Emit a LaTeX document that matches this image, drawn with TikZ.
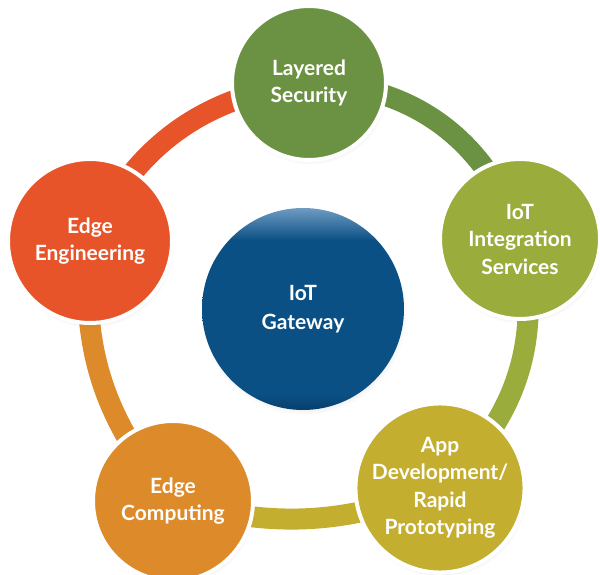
\documentclass[tikz,border=0pt]{standalone}
\usepackage{fontspec}
\setmainfont{Lato}
\usetikzlibrary{backgrounds,shadows}
\definecolor{eecol}{HTML}{E8542A}
\definecolor{lscol}{HTML}{6B9242}
\definecolor{iiscol}{HTML}{9AAC3C}
\definecolor{adcol}{HTML}{C4AE30}
\definecolor{eccol}{HTML}{DD8A2A}
\definecolor{gwblue}{HTML}{0B5084}
\definecolor{gwdeep}{HTML}{073F6C}
\definecolor{gwlight}{HTML}{6E9BC2}
\pgfdeclareverticalshading{gwshade}{100bp}{color(0bp)=(gwdeep); color(25bp)=(gwdeep); color(29bp)=(gwblue); color(67bp)=(gwblue); color(75bp)=(gwlight); color(100bp)=(gwlight)}
\tikzset{
  x=1pt, y=1pt,
  topic/.style={circle, draw=white, line width=4pt, minimum size=#1, inner sep=0pt,
    align=center, text=white, font=\fontsize{21}{27.5}\selectfont\bfseries,
    circular drop shadow={shadow xshift=1pt, shadow yshift=-3pt, opacity=0.28, shadow scale=1.02}},
  hub/.style={circle, shading=gwshade, minimum size=202pt, inner sep=0pt,
    align=center, text=white, font=\fontsize{21}{29}\selectfont\bfseries,
    circular drop shadow={shadow xshift=1pt, shadow yshift=-3pt, opacity=0.25, shadow scale=1.02}},
  band/.style={line width=21pt, line cap=butt}
}
\begin{document}
\begin{tikzpicture}
\useasboundingbox (0,0) rectangle (600,575);
\node[topic=154pt, fill=lscol] (ls) at (309,492) {Layered\\Security};
\node[topic=160pt, fill=iiscol] (iis) at (520,336) {IoT\\Integration\\Services};
\node[topic=164pt, fill=adcol] (ad) at (440,87) {App\\Development/\\Rapid\\Prototyping};
\node[topic=160pt, fill=eccol] (ec) at (173,74) {Edge\\Computing};
\node[topic=164pt, fill=eecol] (ee) at (90,334) {Edge\\Engineering};
\node[hub] (gw) at (303,266) {IoT\\Gateway};
\begin{pgfonlayer}{background}
\draw[band, draw=eecol] (ee.center) to[bend left=29] (ls.center);
\draw[band, draw=lscol] (ls.center) to[bend left=36] (iis.center);
\draw[band, draw=iiscol] (iis.center) to[bend left=31] (ad.center);
\draw[band, draw=adcol] (ad.center) to[bend left=18] (ec.center);
\draw[band, draw=eccol] (ec.center) to[bend left=23] (ee.center);
\end{pgfonlayer}
\end{tikzpicture}
\end{document}
